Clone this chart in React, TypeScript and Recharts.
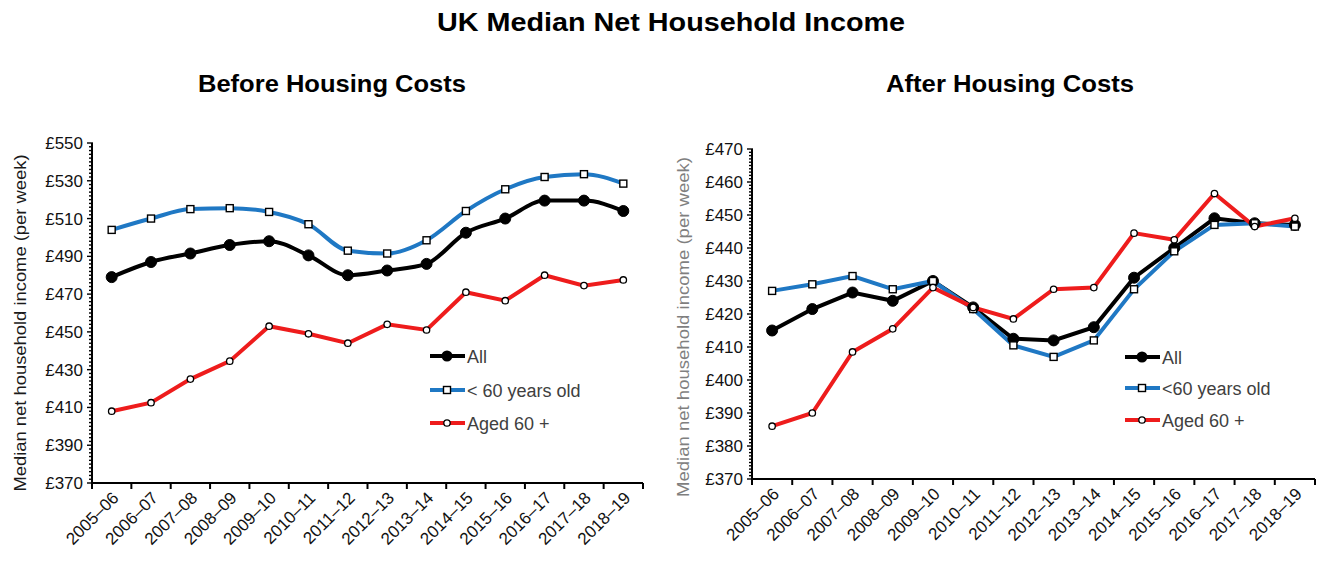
import React from 'react';
import { LineChart, Line, XAxis, YAxis } from 'recharts';

const categories = [
  '2005–06', '2006–07', '2007–08', '2008–09', '2009–10', '2010–11', '2011–12',
  '2012–13', '2013–14', '2014–15', '2015–16', '2016–17', '2017–18', '2018–19',
];

// Before housing costs (£ per week)
const bhcAll = [479, 487, 491.5, 496, 498, 490.5, 480, 482.5, 486, 502.5, 510, 519.5, 519.5, 514];
const bhcUnder60 = [504, 510, 515, 515.5, 513.5, 507, 493, 491.5, 498.5, 514, 525.5, 532, 533.5, 528.5];
const bhcAged60 = [408, 412.5, 425, 434.5, 453, 449, 444, 454, 451, 471, 466.5, 480, 474.5, 477.5];

// After housing costs (£ per week)
const ahcAll = [415, 421.5, 426.5, 424, 430, 422, 412.5, 412, 416, 431, 440, 449, 447.5, 447];
const ahcUnder60 = [427, 429, 431.5, 427.5, 430, 421.5, 410.5, 407, 412, 427.5, 439, 447, 447.5, 446.5];
const ahcAged60 = [386, 390, 408.5, 415.5, 428, 422, 418.5, 427.5, 428, 444.5, 442.5, 456.5, 446.5, 449];

const bhcMajorTicks = [370, 390, 410, 430, 450, 470, 490, 510, 530, 550];
const ahcMajorTicks = [370, 380, 390, 400, 410, 420, 430, 440, 450, 460, 470];

const FONT = '"Liberation Sans", Arial, sans-serif';
const BLUE = '#1f78c4';
const RED = '#ee1c1c';

const buildRows = (all: number[], under: number[], aged: number[]) =>
  categories.map((c, i) => ({ year: c, all: all[i], under60: under[i], aged60: aged[i] }));

const withMinor = (major: number[], step: number) => {
  const out: number[] = [];
  for (let v = major[0]; v <= major[major.length - 1]; v += step) out.push(v);
  return out;
};

const SquareDot = (props: any) => {
  const { cx, cy } = props;
  if (cx == null || cy == null) return null;
  return <rect x={cx - 3.5} y={cy - 3.5} width={7} height={7} fill="#fff" stroke="#000" strokeWidth={1.4} />;
};

const SmallCircle = (props: any) => {
  const { cx, cy } = props;
  if (cx == null || cy == null) return null;
  return <circle cx={cx} cy={cy} r={3.2} fill="#fff" stroke="#000" strokeWidth={1.3} />;
};

interface PanelProps {
  rows: { year: string; all: number; under60: number; aged60: number }[];
  majorTicks: number[];
  minorStep: number;
  width: number;
  top: number;
  bottom: number;
  right: number;
  bandWidth: number;
  smooth: boolean;
}

const Panel: React.FC<PanelProps> = ({ rows, majorTicks, minorStep, width, top, bottom, right, bandWidth, smooth }) => {
  const ticks = withMinor(majorTicks, minorStep);
  const last = rows.length - 1;

  const yTick = (p: any) => {
    const v = p.payload.value;
    const isMajor = majorTicks.includes(v);
    return (
      <g>
        <line x1={p.x - (isMajor ? 5 : 3)} x2={p.x + 1} y1={p.y} y2={p.y} stroke="#000" strokeWidth={1.4} />
        {isMajor && (
          <text x={p.x - 9} y={p.y} dy={6} textAnchor="end" fontSize={17} fill="#111" fontFamily={FONT}>
            £{v}
          </text>
        )}
      </g>
    );
  };

  const xTick = (p: any) => {
    const edge = p.x - bandWidth / 2;
    return (
      <g>
        <line x1={edge} x2={edge} y1={p.y} y2={p.y + 6} stroke="#000" strokeWidth={2} />
        {p.index === last && (
          <line x1={p.x + bandWidth / 2} x2={p.x + bandWidth / 2} y1={p.y} y2={p.y + 6} stroke="#000" strokeWidth={2} />
        )}
        <text
          transform={`translate(${p.x + 8},${p.y + 16}) rotate(-45)`}
          textAnchor="end"
          fontSize={17}
          fill="#111"
          fontFamily={FONT}
        >
          {p.payload.value}
        </text>
      </g>
    );
  };

  return (
    <LineChart
      width={width}
      height={564}
      data={rows}
      margin={{ top, right, bottom: 564 - bottom - 60, left: 32 }}
    >
      <XAxis
        dataKey="year"
        scale="band"
        interval={0}
        height={60}
        tickSize={0}
        tickMargin={0}
        tickLine={false}
        tick={xTick}
        axisLine={{ stroke: '#000', strokeWidth: 2 }}
      />
      <YAxis
        type="number"
        width={60}
        domain={[majorTicks[0], majorTicks[majorTicks.length - 1]]}
        ticks={ticks}
        interval={0}
        tickSize={0}
        tickMargin={0}
        tickLine={false}
        tick={yTick}
        axisLine={{ stroke: '#000', strokeWidth: 2 }}
      />
      <Line
        dataKey="all"
        name="All"
        type={smooth ? 'monotone' : 'linear'}
        stroke="#000"
        strokeWidth={4}
        dot={{ r: 5.5, fill: '#000', stroke: '#000', strokeWidth: 1 }}
        isAnimationActive={false}
      />
      <Line
        dataKey="under60"
        name="< 60 years old"
        type={smooth ? 'monotone' : 'linear'}
        stroke={BLUE}
        strokeWidth={4}
        dot={<SquareDot />}
        isAnimationActive={false}
      />
      <Line
        dataKey="aged60"
        name="Aged 60 +"
        type="linear"
        stroke={RED}
        strokeWidth={4}
        dot={<SmallCircle />}
        isAnimationActive={false}
      />
    </LineChart>
  );
};

const LegendBlock: React.FC<{ x: number; rowsY: number[]; labels: string[] }> = ({ x, rowsY, labels }) => {
  const colors = ['#000', BLUE, RED];
  return (
    <g>
      {labels.map((label, i) => {
        const y = rowsY[i];
        const mx = x + 17;
        return (
          <g key={label}>
            <line x1={x} x2={x + 35} y1={y} y2={y} stroke={colors[i]} strokeWidth={4} />
            {i === 0 && <circle cx={mx} cy={y} r={5.5} fill="#000" />}
            {i === 1 && <rect x={mx - 3.5} y={y - 3.5} width={7} height={7} fill="#fff" stroke="#000" strokeWidth={1.4} />}
            {i === 2 && <circle cx={mx} cy={y} r={3.2} fill="#fff" stroke="#000" strokeWidth={1.3} />}
            <text x={x + 37} y={y} dy={6.5} fontSize={18} fill="#404040" fontFamily={FONT}>
              {label}
            </text>
          </g>
        );
      })}
    </g>
  );
};

const App: React.FC = () => {
  return (
    <div style={{ position: 'absolute', left: 0, top: 0, width: 1318, height: 564, background: '#fff', fontFamily: FONT }}>
      <div style={{ position: 'absolute', left: 0, top: 0 }}>
        <Panel
          rows={buildRows(bhcAll, bhcUnder60, bhcAged60)}
          majorTicks={bhcMajorTicks}
          minorStep={2}
          width={660}
          top={143}
          bottom={483}
          right={17}
          bandWidth={39.36}
          smooth={true}
        />
      </div>
      <div style={{ position: 'absolute', left: 660, top: 0 }}>
        <Panel
          rows={buildRows(ahcAll, ahcUnder60, ahcAged60)}
          majorTicks={ahcMajorTicks}
          minorStep={1}
          width={658}
          top={149}
          bottom={479}
          right={3}
          bandWidth={40.2}
          smooth={false}
        />
      </div>
      <svg width={1318} height={564} style={{ position: 'absolute', left: 0, top: 0, pointerEvents: 'none' }}>
        <text x={671} y={31} textAnchor="middle" fontSize={25} fontWeight="bold" fill="#000" fontFamily={FONT}
          textLength={468} lengthAdjust="spacingAndGlyphs">
          UK Median Net Household Income
        </text>
        <text x={332} y={92} textAnchor="middle" fontSize={23} fontWeight="bold" fill="#000" fontFamily={FONT}
          textLength={268} lengthAdjust="spacingAndGlyphs">
          Before Housing Costs
        </text>
        <text x={1010} y={92} textAnchor="middle" fontSize={23} fontWeight="bold" fill="#000" fontFamily={FONT}
          textLength={248} lengthAdjust="spacingAndGlyphs">
          After Housing Costs
        </text>
        <text transform="translate(26,323) rotate(-90)" textAnchor="middle" fontSize={17} fill="#1a1a1a" fontFamily={FONT}
          textLength={337} lengthAdjust="spacingAndGlyphs">
          Median net household  income (per week)
        </text>
        <text transform="translate(689,327) rotate(-90)" textAnchor="middle" fontSize={17} fill="#7f7f7f" fontFamily={FONT}
          textLength={340} lengthAdjust="spacingAndGlyphs">
          Median net household income (per week)
        </text>
        <LegendBlock x={430} rowsY={[356, 390, 423]} labels={['All', '< 60 years old', 'Aged 60 +']} />
        <LegendBlock x={1125} rowsY={[357, 388, 420]} labels={['All', '<60 years old', 'Aged 60 +']} />
      </svg>
    </div>
  );
};

export default App;
